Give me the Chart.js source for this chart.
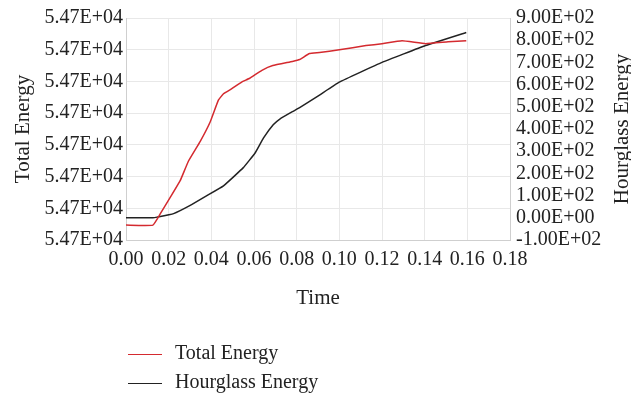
<!DOCTYPE html>
<html>
<head>
<meta charset="utf-8">
<script src="https://cdn.jsdelivr.net/npm/chart.js@4"></script>
<style>
  html, body { margin: 0; padding: 0; background: #fff; }
  #wrap { position: relative; width: 631px; height: 396px; }
  #legend { position: absolute; left: 128px; top: 338px; font-family: "Liberation Serif", serif; font-size: 20px; color: #222; }
  #legend div { height: 29px; line-height: 29px; white-space: nowrap; }
  #legend span.sw { display: inline-block; width: 34px; height: 0; border-top: 1.5px solid; vertical-align: middle; margin-right: 13px; }
</style>
</head>
<body>
<div id="wrap">
  <canvas id="c" width="631" height="396"></canvas>
  <div id="legend"></div>
</div>
<script>
  // Time axis ticks
  const xTicks = [0, 0.02, 0.04, 0.06, 0.08, 0.10, 0.12, 0.14, 0.16, 0.18];

  // Total energy, left axis (labels all read 5.47E+04, so level is in tick steps)
  const totalT = [0, 0.0126, 0.0161, 0.0208, 0.0254, 0.0293, 0.0348, 0.0395, 0.0433, 0.0457, 0.0496, 0.0542, 0.058, 0.0637, 0.0688, 0.078, 0.0814, 0.086, 0.0907, 0.1, 0.1125, 0.12, 0.1294, 0.1404, 0.151, 0.1595];
  const totalE = [0.47, 0.47, 0.83, 1.35, 1.87, 2.49, 3.11, 3.73, 4.41, 4.61, 4.77, 4.98, 5.1, 5.35, 5.5, 5.63, 5.69, 5.88, 5.91, 6.0, 6.13, 6.19, 6.28, 6.19, 6.25, 6.28];
  const leftTickLabel = "5.47E+04";

  // Hourglass energy, right axis
  const hourT = [0, 0.0126, 0.0146, 0.0223, 0.0301, 0.0379, 0.0457, 0.055, 0.0605, 0.0644, 0.069, 0.0721, 0.078, 0.0814, 0.0907, 0.1, 0.12, 0.1404, 0.1595];
  const hourE = [0, 0, 3, 19, 56, 100, 144, 226, 292, 359, 419, 445, 478, 496, 553, 611, 700, 776, 835];

  const series = [
    { label: "Total Energy", t: totalT, v: totalE, color: "#d42a2f", axis: "y" },
    { label: "Hourglass Energy", t: hourT, v: hourE, color: "#222222", axis: "y1" },
  ];

  const tickFont = { family: "'Liberation Serif', serif", size: 20 };
  const titleFont = { family: "'Liberation Serif', serif", size: 21 };

  const rightTitle = {
    id: "rightTitle",
    afterDraw(chart) {
      const { ctx, chartArea } = chart;
      ctx.save();
      ctx.translate(622, (chartArea.top + chartArea.bottom) / 2);
      ctx.rotate(-Math.PI / 2);
      ctx.font = "21px 'Liberation Serif', serif";
      ctx.fillStyle = "#222";
      ctx.textAlign = "center";
      ctx.textBaseline = "middle";
      ctx.fillText("Hourglass Energy", 0, 0);
      ctx.restore();
    }
  };

  new Chart(document.getElementById("c"), {
    type: "line",
    data: {
      datasets: series.map(s => ({
        label: s.label,
        data: s.t.map((t, i) => ({ x: t, y: s.v[i] })),
        yAxisID: s.axis,
        borderColor: s.color,
        borderWidth: 1.5,
        pointRadius: 0,
        tension: 0.1,
        fill: false,
      })),
    },
    options: {
      responsive: false,
      animation: false,
      layout: { padding: { top: 15, bottom: 85, left: 0, right: 0 } },
      plugins: { legend: { display: false }, tooltip: { enabled: false } },
      scales: {
        x: {
          type: "linear", min: 0, max: 0.18,
          afterBuildTicks: (s) => { s.ticks = xTicks.map(v => ({ value: v })); },
          ticks: { color: "#222", font: tickFont, padding: 8, maxRotation: 0, autoSkip: false, callback: (v) => v.toFixed(2) },
          grid: { color: "#e8e8e8", drawTicks: false },
          border: { color: "#cfcfcf" },
          title: { display: true, text: "Time", color: "#222", font: titleFont, padding: 0 },
          afterFit: (s) => { s.height = 71; },
        },
        y: {
          position: "left", min: 0, max: 7,
          ticks: { stepSize: 1, color: "#222", font: tickFont, padding: 3, autoSkip: false, callback: () => leftTickLabel },
          grid: { color: "#e8e8e8", drawTicks: false },
          border: { color: "#cfcfcf" },
          title: { display: true, text: "Total Energy", color: "#222", font: titleFont, padding: { top: 11 } },
          afterFit: (s) => { s.width = 126; },
        },
        y1: {
          position: "right", min: -100, max: 900,
          ticks: { stepSize: 100, color: "#222", font: tickFont, padding: 6, autoSkip: false,
            callback: (v) => v.toExponential(2).toUpperCase().replace(/E([+-])(\d)$/, "E$10$2") },
          grid: { display: false, drawTicks: false },
          border: { color: "#cfcfcf" },
          afterFit: (s) => { s.width = 121; },
        },
      },
    },
    plugins: [rightTitle],
  });

  document.getElementById("legend").innerHTML = series.map(s =>
    `<div><span class="sw" style="border-color:${s.color}"></span>${s.label}</div>`).join("");
</script>
</body>
</html>
